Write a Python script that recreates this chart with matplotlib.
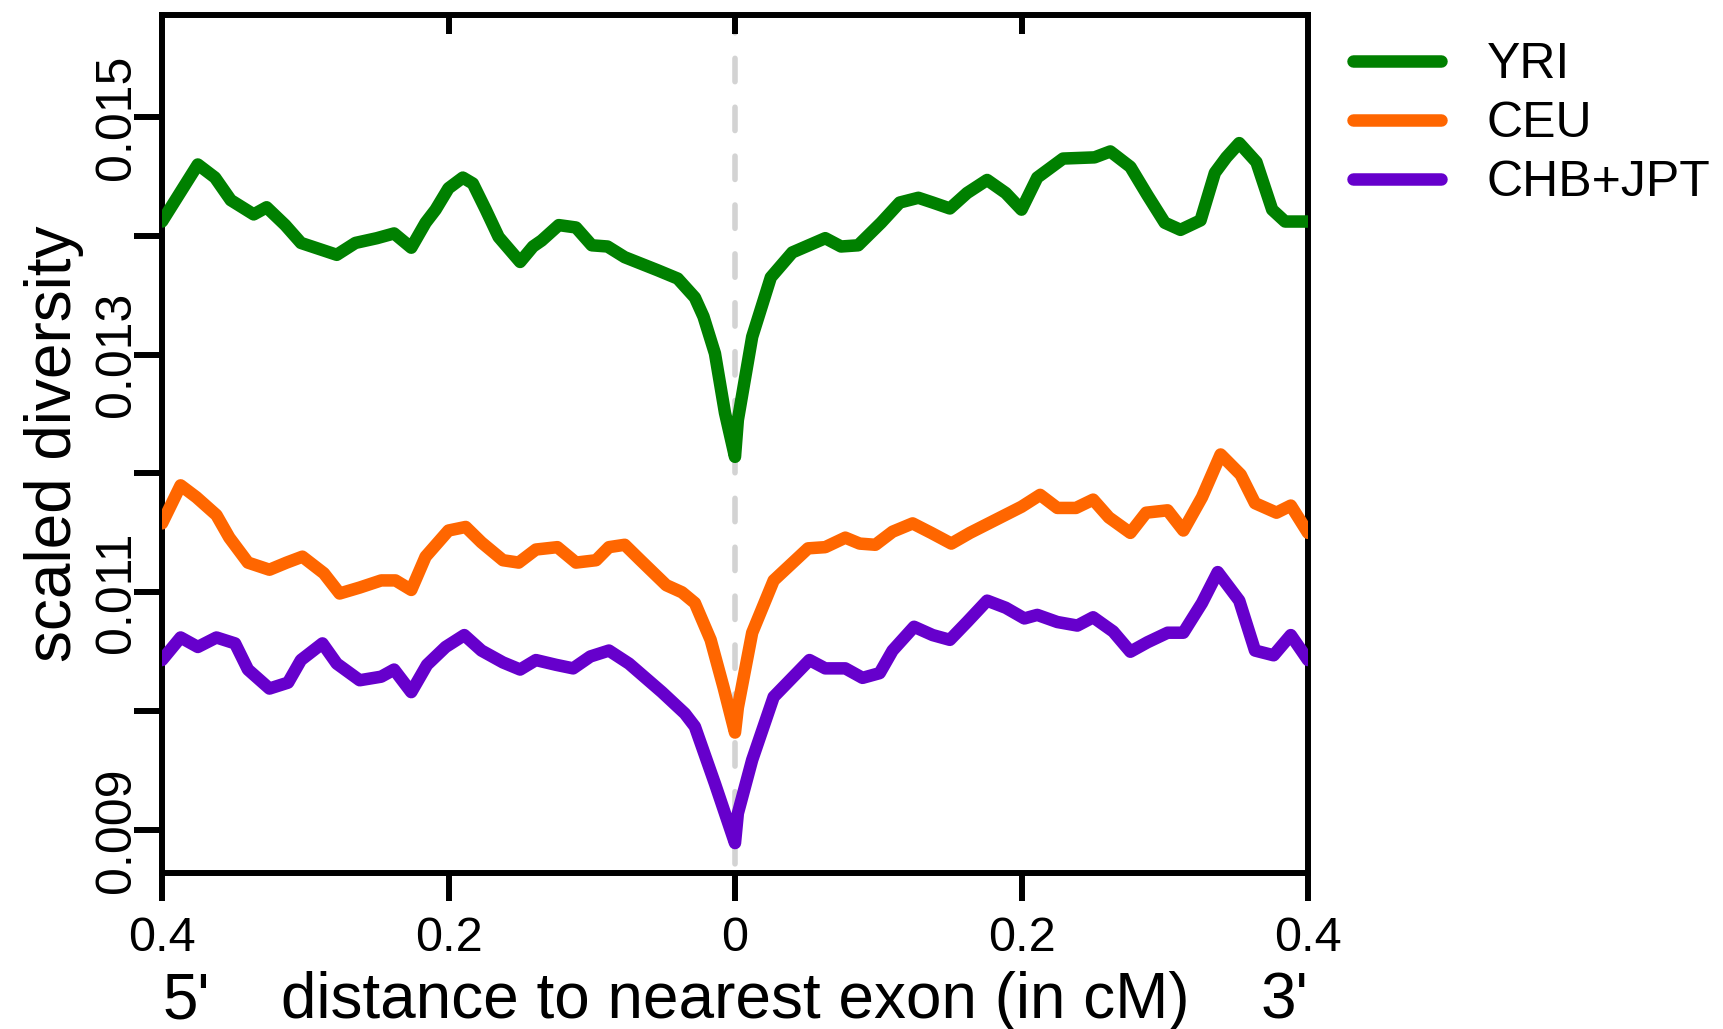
import matplotlib
matplotlib.use("Agg")
import matplotlib.pyplot as plt
from matplotlib.ticker import FixedLocator

plt.rcParams["font.family"] = ["Liberation Sans", "DejaVu Sans"]

# distance to nearest exon in cM (negative = 5' side, positive = 3' side)
yri_x = [-0.400, -0.375, -0.363, -0.352, -0.336, -0.327, -0.314, -0.303, -0.278, -0.265,
         -0.250, -0.238, -0.226, -0.216, -0.209, -0.200, -0.190, -0.183, -0.174, -0.165,
         -0.150, -0.141, -0.135, -0.123, -0.111, -0.100, -0.089, -0.077, -0.054, -0.040,
         -0.028, -0.022, -0.014, -0.007, 0.000,
         0.002, 0.012, 0.025, 0.040, 0.063, 0.074, 0.086, 0.102, 0.115, 0.128,
         0.138, 0.150, 0.162, 0.176, 0.189, 0.200, 0.211, 0.229, 0.251, 0.262,
         0.276, 0.288, 0.300, 0.311, 0.325, 0.335, 0.343, 0.352, 0.364, 0.375,
         0.384, 0.400]
yri_div = [0.01412, 0.01460, 0.01449, 0.01430, 0.01418, 0.01424, 0.01409, 0.01394, 0.01384, 0.01394,
           0.01398, 0.01402, 0.01390, 0.01411, 0.01422, 0.01440, 0.01449, 0.01444, 0.01422, 0.01399,
           0.01378, 0.01391, 0.01396, 0.01409, 0.01407, 0.01392, 0.01391, 0.01382, 0.01371, 0.01364,
           0.01348, 0.01332, 0.01301, 0.01251, 0.01214,
           0.01245, 0.01315, 0.01365, 0.01386, 0.01398, 0.01391, 0.01392, 0.01411, 0.01428, 0.01432,
           0.01428, 0.01423, 0.01436, 0.01447, 0.01436, 0.01422, 0.01449, 0.01465, 0.01466, 0.01471,
           0.01458, 0.01434, 0.01411, 0.01405, 0.01413, 0.01453, 0.01466, 0.01478, 0.01462, 0.01422,
           0.01412, 0.01412]

ceu_x = [-0.400, -0.387, -0.376, -0.362, -0.353, -0.340, -0.325, -0.313, -0.302, -0.287,
         -0.276, -0.262, -0.247, -0.237, -0.226, -0.216, -0.200, -0.188, -0.177, -0.162,
         -0.151, -0.139, -0.124, -0.111, -0.097, -0.088, -0.077, -0.066, -0.048, -0.037,
         -0.028, -0.017, -0.008, 0.000,
         0.002, 0.012, 0.027, 0.051, 0.063, 0.077, 0.087, 0.098, 0.110, 0.124,
         0.137, 0.151, 0.164, 0.182, 0.200, 0.213, 0.225, 0.238, 0.250, 0.261,
         0.276, 0.287, 0.302, 0.313, 0.326, 0.339, 0.353, 0.363, 0.378, 0.388, 0.400]
ceu_div = [0.01158, 0.01190, 0.01180, 0.01165, 0.01146, 0.01125, 0.01119, 0.01125, 0.01130, 0.01116,
           0.01099, 0.01104, 0.01110, 0.01110, 0.01102, 0.01130, 0.01152, 0.01155, 0.01142, 0.01127,
           0.01125, 0.01136, 0.01138, 0.01125, 0.01127, 0.01138, 0.01140, 0.01127, 0.01106, 0.01100,
           0.01091, 0.01060, 0.01020, 0.00982,
           0.01003, 0.01066, 0.01110, 0.01137, 0.01138, 0.01146, 0.01141, 0.01140, 0.01151, 0.01158,
           0.01150, 0.01141, 0.01150, 0.01161, 0.01172, 0.01182, 0.01171, 0.01171, 0.01178, 0.01163,
           0.01150, 0.01167, 0.01169, 0.01152, 0.01180, 0.01216, 0.01199, 0.01175, 0.01167, 0.01173,
           0.01150]

chb_x = [-0.400, -0.387, -0.375, -0.362, -0.349, -0.340, -0.325, -0.312, -0.303, -0.288,
         -0.278, -0.262, -0.247, -0.238, -0.226, -0.215, -0.202, -0.189, -0.177, -0.162,
         -0.150, -0.139, -0.125, -0.113, -0.101, -0.088, -0.074, -0.051, -0.035, -0.028,
         -0.014, 0.000,
         0.002, 0.012, 0.027, 0.052, 0.063, 0.077, 0.089, 0.101, 0.110, 0.125,
         0.138, 0.150, 0.162, 0.176, 0.189, 0.202, 0.211, 0.225, 0.239, 0.250,
         0.264, 0.276, 0.288, 0.302, 0.313, 0.326, 0.337, 0.352, 0.363, 0.376,
         0.388, 0.400]
chb_div = [0.01043, 0.01062, 0.01054, 0.01062, 0.01057, 0.01035, 0.01019, 0.01024, 0.01043, 0.01057,
           0.01040, 0.01026, 0.01029, 0.01035, 0.01016, 0.01039, 0.01054, 0.01064, 0.01051, 0.01041,
           0.01035, 0.01043, 0.01039, 0.01036, 0.01046, 0.01051, 0.01040, 0.01016, 0.00998, 0.00987,
           0.00939, 0.00889,
           0.00914, 0.00959, 0.01012, 0.01043, 0.01036, 0.01036, 0.01028, 0.01032, 0.01051, 0.01071,
           0.01064, 0.01060, 0.01075, 0.01093, 0.01087, 0.01078, 0.01081, 0.01075, 0.01072, 0.01079,
           0.01067, 0.01050, 0.01058, 0.01066, 0.01066, 0.01091, 0.01117, 0.01093, 0.01051, 0.01047,
           0.01064, 0.01043]

populations = ["YRI", "CEU", "CHB+JPT"]
colors = ["#008000", "#FF6600", "#6600CC"]

x_ticks = [-0.4, -0.2, 0.0, 0.2, 0.4]
x_tick_labels = ["0.4", "0.2", "0", "0.2", "0.4"]
top_ticks = [-0.2, 0.0, 0.2]
y_ticks = [0.009, 0.010, 0.011, 0.012, 0.013, 0.014, 0.015]
y_tick_labels = ["0.009", "", "0.011", "", "0.013", "", "0.015"]

Y_MIN, Y_MAX = 0.008638, 0.015858
LW = 9

fig = plt.figure(figsize=(17.24, 10.29), dpi=100)
ax = fig.add_axes([0.09397, 0.15160, 0.66473, 0.83382])

# exon position marker
ax.plot([0, 0], [Y_MAX, Y_MIN], color="#d3d3d3", lw=4.0,
        ls=(1.0, (4.2, 4.6)), dash_capstyle="round", zorder=1)

series = [(yri_x, yri_div), (ceu_x, ceu_div), (chb_x, chb_div)]
handles = []
for (xs, ys), name, col in zip(series, populations, colors):
    line, = ax.plot(xs, ys, color=col, lw=LW, solid_joinstyle="round",
                    solid_capstyle="round", label=name, zorder=3)
    handles.append(line)

ax.set_xlim(-0.4, 0.4)
ax.set_ylim(Y_MIN, Y_MAX)

for sp in ax.spines.values():
    sp.set_linewidth(4.3)
    sp.set_color("black")

# bottom: outward labelled ticks; top: short inward ticks (as minor ticks)
ax.set_xticks(x_ticks, x_tick_labels)
ax.xaxis.set_minor_locator(FixedLocator(top_ticks))
ax.xaxis.remove_overlapping_locs = False
ax.tick_params(axis="x", which="major", direction="out", length=20, width=4.3,
               labelsize=35, pad=11, top=False, bottom=True)
ax.tick_params(axis="x", which="minor", direction="in", length=14, width=4.3,
               top=True, bottom=False, labelbottom=False)

ax.set_yticks(y_ticks, y_tick_labels)
ax.tick_params(axis="y", direction="out", length=20, width=4.3,
               labelsize=36, pad=3)
for lab in ax.get_yticklabels():
    lab.set_rotation(90)
    lab.set_rotation_mode("anchor")
    lab.set_ha("center")
    lab.set_va("baseline")

ax.set_xlabel("distance to nearest exon (in cM)", fontsize=46)
ax.xaxis.set_label_coords(0.5, -0.1692)
ax.xaxis.label.set_va("baseline")
ax.text(0.0, -0.1692, "5'", transform=ax.transAxes, ha="left",
        va="baseline", fontsize=46)
ax.text(1.0, -0.1692, "3'", transform=ax.transAxes, ha="right",
        va="baseline", fontsize=46)

ax.set_ylabel("scaled diversity", fontsize=46)
ax.yaxis.set_label_coords(-0.079, 0.5)
ax.yaxis.label.set_va("baseline")

fig.legend(handles=handles, loc="upper left",
           bbox_to_anchor=(1353 / 1724, 1 - 42 / 1029),
           frameon=False, fontsize=36, handlelength=1.75,
           handletextpad=0.92, labelspacing=0.26,
           borderpad=0, borderaxespad=0)

fig.savefig("out.png", dpi=100)
